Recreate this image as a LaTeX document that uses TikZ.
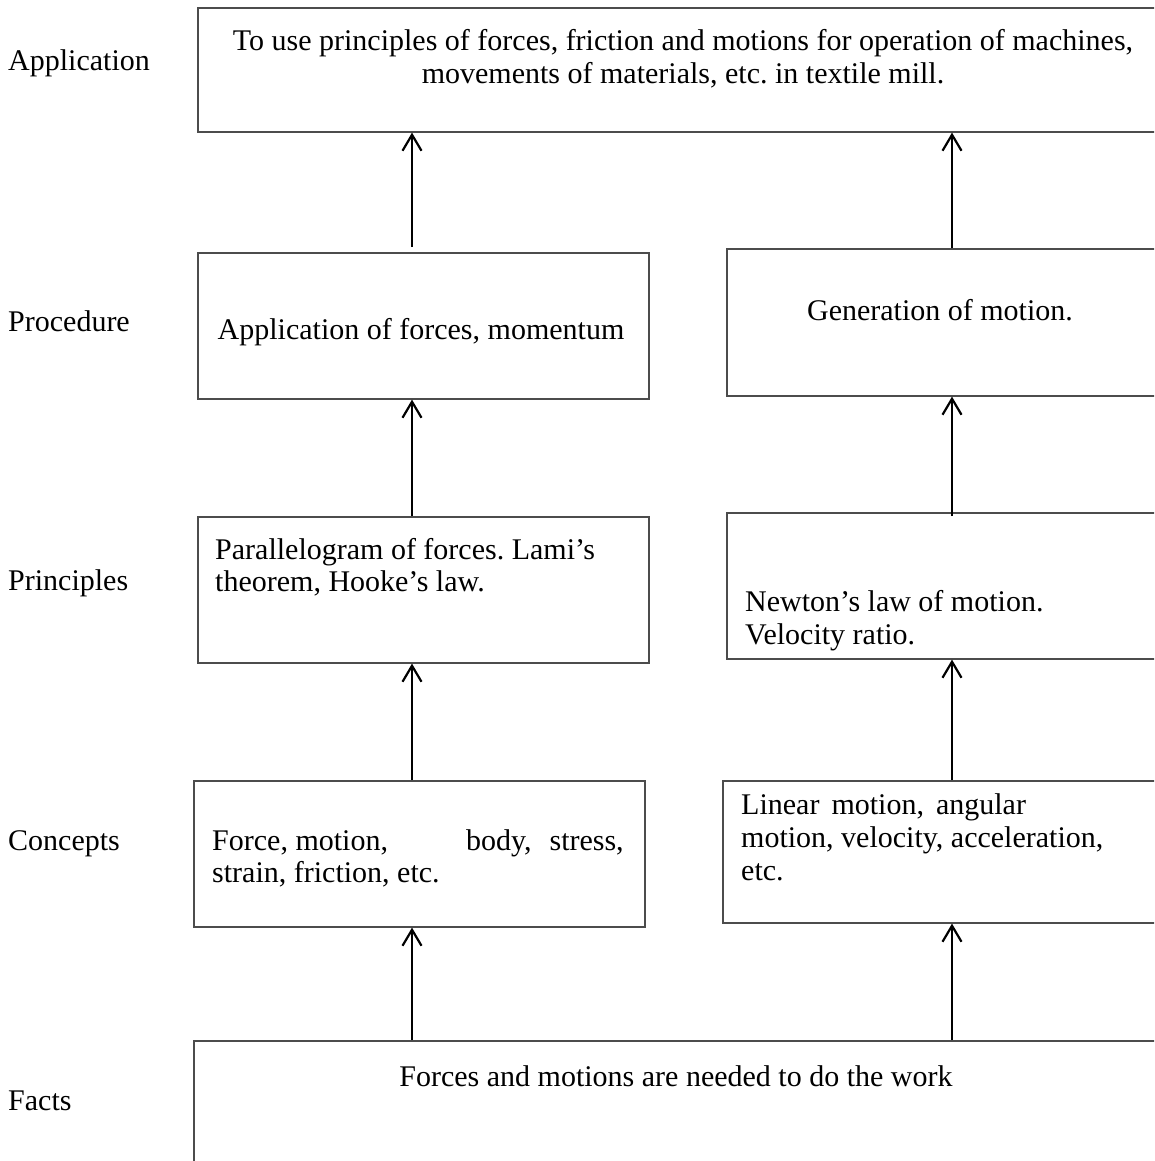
\documentclass[tikz,border=0pt]{standalone}
\usepackage{fontspec}
\setmainfont{Liberation Serif}
\usetikzlibrary{arrows.meta}
\frenchspacing
\begin{document}
\begin{tikzpicture}[x=1pt,y=-1pt,
  box/.style={draw=black!70, line width=1.6pt, inner sep=0pt, anchor=north west},
  txt/.style={inner sep=0pt, anchor=base west, font=\fontsize{30}{33}\selectfont},
  ctxt/.style={txt, anchor=base},
  up/.style={-{Straight Barb[length=16pt,width=19pt,line width=2.2pt]}, line width=2.2pt}
]
\useasboundingbox (0,0) rectangle (1154,1161);
\clip (0,0) rectangle (1154,1161);

% level labels
\node[txt] (lapp)  at (8,71)   {Application};
\node[txt] (lproc) at (8,331)  {Procedure};
\node[txt] (lprin) at (8,590)  {Principles};
\node[txt] (lcon)  at (8,850)  {Concepts};
\node[txt] (lfac)  at (8,1110) {Facts};

% boxes (right-hand ones run past the page edge)
\node[box, minimum width=1003pt, minimum height=124pt] (app)   at (197,7)    {};
\node[box, minimum width=451pt,  minimum height=146pt] (procL) at (197,252)  {};
\node[box, minimum width=474pt,  minimum height=147pt] (procR) at (726,248)  {};
\node[box, minimum width=451pt,  minimum height=146pt] (prinL) at (197,516)  {};
\node[box, minimum width=474pt,  minimum height=146pt] (prinR) at (726,512)  {};
\node[box, minimum width=451pt,  minimum height=146pt] (conL)  at (193,780)  {};
\node[box, minimum width=478pt,  minimum height=142pt] (conR)  at (722,780)  {};
\node[box, minimum width=1007pt, minimum height=160pt] (facts) at (193,1040) {};

% box texts
\node[ctxt] (app1) at (683,51) {To use principles of forces, friction and motions for operation of machines,};
\node[ctxt] (app2) at (683,84) {movements of materials, etc. in textile mill.};
\node[ctxt] (procL1) at (421,339) {Application of forces, momentum};
\node[ctxt] (procR1) at (940,320) {Generation of motion.};
\node[txt] (prinL1) at (215,559) {Parallelogram of forces. Lami’s};
\node[txt] (prinL2) at (215,591) {theorem, Hooke’s law.};
\node[txt] (prinR1) at (745,611) {Newton’s law of motion.};
\node[txt] (prinR2) at (745,644) {Velocity ratio.};
\node[txt] (conL1) at (212,850) {Force, motion,\hspace*{78pt}body,\hspace*{18pt}stress,};
\node[txt] (conL2) at (212,882) {strain, friction, etc.};
\node[txt] (conR1) at (741,814) {Linear\hspace*{12pt}motion,\hspace*{12pt}angular};
\node[txt] (conR2) at (741,847) {motion, velocity, acceleration,};
\node[txt] (conR3) at (741,880) {etc.};
\node[ctxt] (facts1) at (676,1086) {Forces and motions are needed to do the work};

% arrow columns
\coordinate (colL) at (412,0);
\coordinate (colR) at (952,0);

\draw[up] (facts.north -| colL) -- (conL.south -| colL);
\draw[up] (facts.north -| colR) -- (conR.south -| colR);
\draw[up] (conL.north -| colL) -- (prinL.south -| colL);
\draw[up] (conR.north -| colR) -- (prinR.south -| colR);
\draw[up] (prinL.north -| colL) -- (procL.south -| colL);
\draw[up] ([yshift=-4pt]prinR.north -| colR) -- (procR.south -| colR);
\draw[up] ([yshift=5pt]procL.north -| colL) -- (app.south -| colL);
\draw[up] (procR.north -| colR) -- (app.south -| colR);
\end{tikzpicture}
\end{document}
